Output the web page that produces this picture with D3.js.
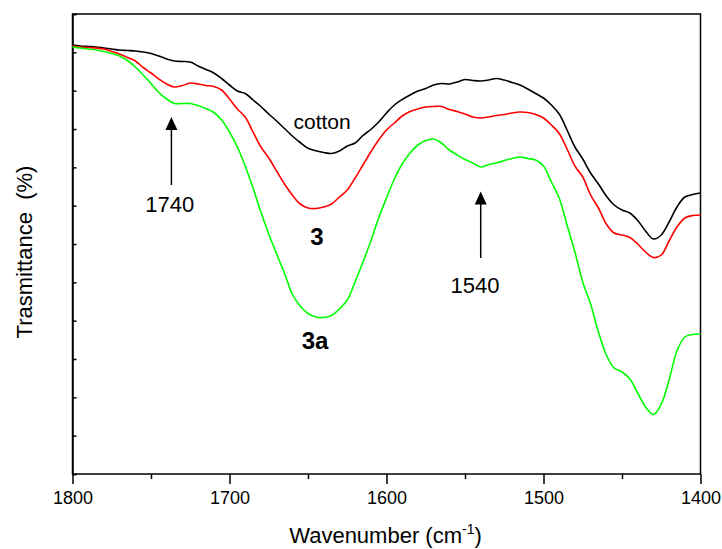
<!DOCTYPE html>
<meta charset="utf-8">
<style>
body { margin: 0; background: #fff; }
text { font-family: Arial, "Liberation Sans", sans-serif; }
.axis path, .axis line { stroke: #000; stroke-width: 1.5px; }
.axis text { font-size: 18px; fill: #000; }
</style>
<body>
<script src="https://d3js.org/d3.v7.min.js"></script>
<script>

// wavenumbers (cm-1), every 5 from 1800 down to 1400
var wavenumbers = d3.range(1800, 1399, -5);

// transmittance readings (arbitrary units) for each sample
var cotton = [42.9, 42.8, 42.75, 42.7, 42.6, 42.5, 42.4, 42.35, 42.3, 42.2,
  42.05, 41.8, 41.5, 41.3, 41.25, 41.2, 40.8, 40.45, 40.1, 39.55,
  38.9, 38.3, 38.05, 37.4, 36.75, 36.0, 35.3, 34.55, 33.8, 33.15,
  32.57, 32.33, 32.15, 32.05, 32.3, 32.8, 33.1, 33.85, 34.45, 35.2,
  36.1, 36.9, 37.45, 37.9, 38.3, 38.55, 38.9, 39.05, 39.0, 39.2,
  39.45, 39.35, 39.3, 39.4, 39.55, 39.4, 39.15, 38.9, 38.5, 38.05,
  37.6, 36.9, 36.0, 34.4, 32.7, 31.5, 30.1, 29.0, 27.8, 26.9,
  26.4, 26.1, 25.35, 24.3, 23.5, 23.9, 25.2, 26.7, 27.7, 27.95, 28.1];

var sample3 = [42.8, 42.7, 42.65, 42.6, 42.5, 42.25, 42.0, 41.65, 41.3, 40.65,
  40.1, 39.5, 39.0, 38.7, 38.85, 39.1, 39.0, 38.85, 38.75, 38.4,
  37.5, 36.5, 35.7, 34.2, 32.7, 31.6, 30.3, 29.0, 27.9, 27.0,
  26.6, 26.55, 26.7, 27.0, 27.7, 28.4, 29.6, 30.9, 32.2, 33.4,
  34.4, 35.1, 35.8, 36.25, 36.5, 36.7, 36.75, 36.75, 36.45, 36.25,
  36.0, 35.7, 35.6, 35.7, 35.85, 35.95, 36.1, 36.2, 36.15, 35.95,
  35.6, 34.9, 34.05, 32.5, 30.8, 29.7, 27.9, 26.6, 25.0, 24.1,
  23.9, 23.65, 23.0, 22.2, 21.65, 21.9, 23.3, 24.7, 25.6, 25.85, 25.9];

var sample3a = [42.7, 42.6, 42.5, 42.4, 42.25, 42.05, 41.8, 41.35, 40.7, 39.9,
  39.05, 38.15, 37.5, 37.05, 37.05, 37.05, 36.85, 36.55, 36.15, 35.4,
  34.2, 32.7, 30.8, 28.6, 26.2, 24.0, 22.0, 20.1, 18.0, 16.8,
  16.05, 15.7, 15.65, 15.85, 16.5, 17.4, 19.2, 21.2, 23.3, 25.6,
  27.6, 29.5, 31.0, 32.1, 32.9, 33.35, 33.5, 33.1, 32.4, 31.9,
  31.45, 31.1, 30.7, 30.95, 31.1, 31.35, 31.55, 31.7, 31.55, 31.4,
  30.8, 29.2, 27.6, 24.9, 22.2, 19.2, 17.0, 14.2, 11.9, 10.6,
  10.2, 9.5, 8.1, 6.7, 5.95, 7.0, 9.4, 12.3, 13.7, 13.95, 14.0];

var majorTicks = [1800, 1700, 1600, 1500, 1400];
var minorTicks = [1750, 1650, 1550, 1450];

// arrows: wavenumber, tip and tail transmittance, label
var arrows = [
  {w: 1737, tip: 35.7, tail: 28.9, label: "1740", lw: 1738, ly: 26.2},
  {w: 1540, tip: 28.25, tail: 21.6, label: "1540", lw: 1543.6, ly: 18.1}
];
var curveLabels = [
  {text: "cotton", w: 1641, v: 34.5, bold: false},
  {text: "3", w: 1644.3, v: 22.9, bold: true},
  {text: "3a", w: 1645.5, v: 12.5, bold: true}
];

var margin = {top: 14, right: 21.5, bottom: 75, left: 72.5},
    width = 722 - margin.left - margin.right,
    height = 549 - margin.top - margin.bottom;

var x = d3.scaleLinear().domain([1800, 1400]).range([0, width]);
var y = d3.scaleLinear().domain([0, 46]).range([height, 0]);

var svg = d3.select("body").append("svg")
    .attr("width", 722)
    .attr("height", 549)
  .append("g")
    .attr("transform", "translate(" + margin.left + "," + margin.top + ")");

// frame
svg.append("rect")
    .attr("width", width).attr("height", height)
    .attr("fill", "none").attr("stroke", "#000").attr("stroke-width", 1.5);

// x axis, major + minor ticks
svg.append("g")
    .attr("class", "axis")
    .attr("transform", "translate(0," + height + ")")
    .call(d3.axisBottom(x).tickValues(majorTicks).tickSize(10).tickPadding(7).tickFormat(d3.format("d")))
    .call(g => g.select(".domain").remove());
svg.append("g")
    .attr("class", "axis")
    .attr("transform", "translate(0," + height + ")")
    .call(d3.axisBottom(x).tickValues(minorTicks).tickSize(5).tickFormat(""))
    .call(g => g.select(".domain").remove());

// y axis, inward ticks, no labels
svg.append("g")
    .attr("class", "axis")
    .call(d3.axisLeft(y).tickValues(d3.range(13).map(i => i * 46 / 12)).tickSize(-4).tickFormat(""))
    .call(g => g.select(".domain").attr("stroke-width", 2));

var line = d3.line()
    .x(function(d, i) { return x(wavenumbers[i]); })
    .y(function(d) { return y(d); })
    .curve(d3.curveCatmullRom);

[[cotton, "#000000"], [sample3, "#ff0000"], [sample3a, "#00ff00"]].forEach(function(s) {
  svg.append("path")
      .datum(s[0])
      .attr("fill", "none")
      .attr("stroke", s[1])
      .attr("stroke-width", 1.6)
      .attr("d", line);
});

// arrows
arrows.forEach(function(a) {
  var ax = x(a.w), tip = y(a.tip);
  svg.append("line")
      .attr("x1", ax).attr("x2", ax)
      .attr("y1", tip + 12).attr("y2", y(a.tail))
      .attr("stroke", "#000").attr("stroke-width", 1.5);
  svg.append("path")
      .attr("d", "M" + ax + "," + tip + "L" + (ax - 6) + "," + (tip + 13) + "L" + (ax + 6) + "," + (tip + 13) + "Z")
      .attr("fill", "#000");
  svg.append("text")
      .attr("x", x(a.lw)).attr("y", y(a.ly))
      .attr("text-anchor", "middle")
      .style("font-size", "22px")
      .text(a.label);
});

curveLabels.forEach(function(c) {
  svg.append("text")
      .attr("x", x(c.w)).attr("y", y(c.v))
      .attr("text-anchor", "middle")
      .style("font-size", c.bold ? "24px" : "21px")
      .style("font-weight", c.bold ? "bold" : "normal")
      .text(c.text);
});

// axis titles
var xt = svg.append("text")
    .attr("x", width / 2 - 1).attr("y", height + 69)
    .attr("text-anchor", "middle")
    .style("font-size", "22px");
xt.append("tspan").text("Wavenumber (cm");
xt.append("tspan").attr("dy", -9).style("font-size", "14px").text("-1");
xt.append("tspan").attr("dy", 9).text(")");

svg.append("text")
    .attr("transform", "rotate(-90)")
    .attr("x", -(252 - margin.top)).attr("y", -41)
    .attr("text-anchor", "middle")
    .style("font-size", "22px")
    .style("white-space", "pre")
    .text("Trasmittance  (%)");

</script>
</body>
